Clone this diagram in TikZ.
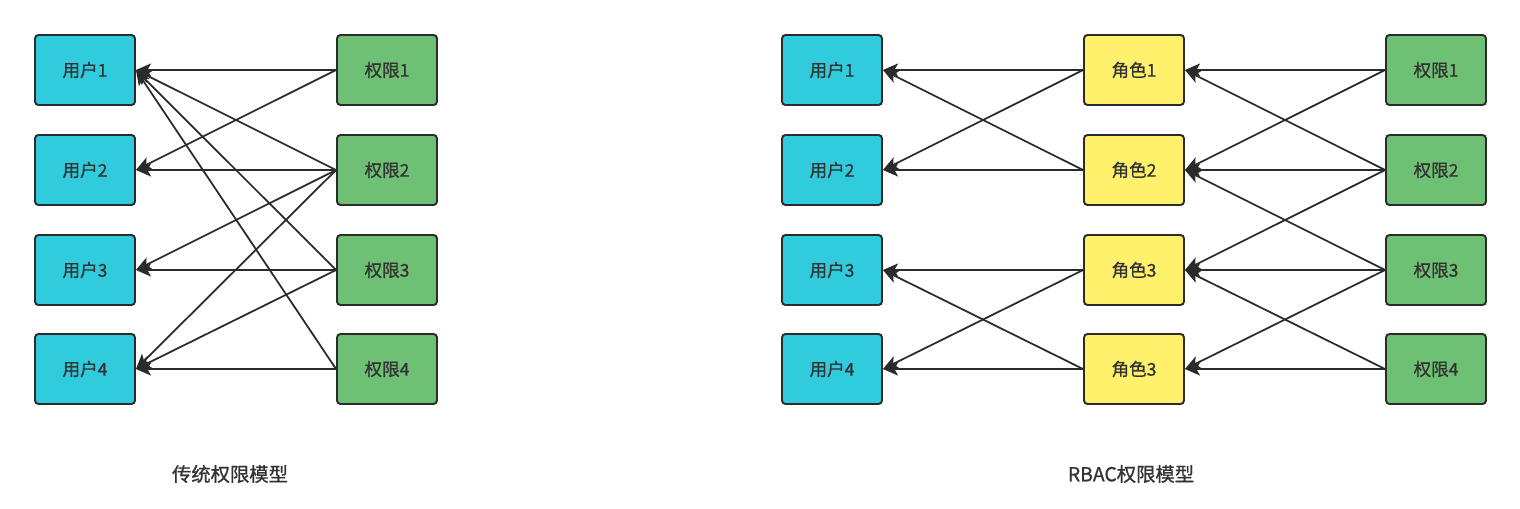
\documentclass[tikz,border=0pt]{standalone}
\usepackage{fontspec}
\setmainfont{Noto Sans CJK SC}[UprightFeatures={FakeBold=0.9}]
\usepackage{tikz}
\usetikzlibrary{arrows.meta,positioning}
\definecolor{userc}{HTML}{30CBDD}
\definecolor{rolec}{HTML}{FFF16B}
\definecolor{permc}{HTML}{6EC174}
\definecolor{linec}{HTML}{2B2B2B}
\tikzstyle{edge}  =[-{Stealth[length=0.3cm,width=0.26cm,inset=0.07cm]},
                    draw=linec, line width=1pt]

\begin{document}
\begin{tikzpicture}[x=0.02cm, y=-0.02cm, every node/.style = {draw=linec,
        rectangle, rounded corners=0.07cm, minimum width=2cm, minimum height=1.4cm,
        line width=1.1pt, inner sep=0pt, text=black!80,
        font=\fontsize{10}{12}\selectfont}]
    \useasboundingbox (0,0) rectangle (1520,508);
    % traditional model
    \foreach \i/\y in {1/70,2/170,3/270,4/369} {
        \node (u\i) [fill=userc] at (85,\y) {用户\i};
        \node (p\i) [fill=permc] at (387,\y) {权限\i};
    }
    \foreach \a/\b in {1/1,1/2,2/1,2/2,2/3,2/4,3/1,3/3,3/4,4/1,4/4}
        \draw[edge] (p\a.west) -- (u\b.east);
    % RBAC model
    \foreach \i/\y in {1/70,2/170,3/270,4/369} {
        \node (ru\i) [fill=userc] at (832,\y) {用户\i};
        \node (rp\i) [fill=permc] at (1436,\y) {权限\i};
    }
    \node (rr1) [fill=rolec] at (1134,70) {角色1};
    \node (rr2) [fill=rolec] at (1134,170) {角色2};
    \node (rr3) [fill=rolec] at (1134,270) {角色3};
    \node (rr4) [fill=rolec] at (1134,369) {角色3};
    \foreach \a/\b in {1/1,1/2,2/1,2/2,3/3,3/4,4/3,4/4}
        \draw[edge] (rr\a.west) -- (ru\b.east);
    \foreach \a/\b in {1/1,1/2,2/1,2/2,2/3,3/2,3/3,3/4,4/3,4/4}
        \draw[edge] (rp\a.west) -- (rr\b.east);
    % captions
    \node (cap1) [draw=none, font=\fontsize{11}{13}\selectfont] at (230,474) {传统权限模型};
    \node (cap2) [draw=none, font=\fontsize{11}{13}\selectfont] at (1131,474) {RBAC权限模型};
\end{tikzpicture}
\end{document}
